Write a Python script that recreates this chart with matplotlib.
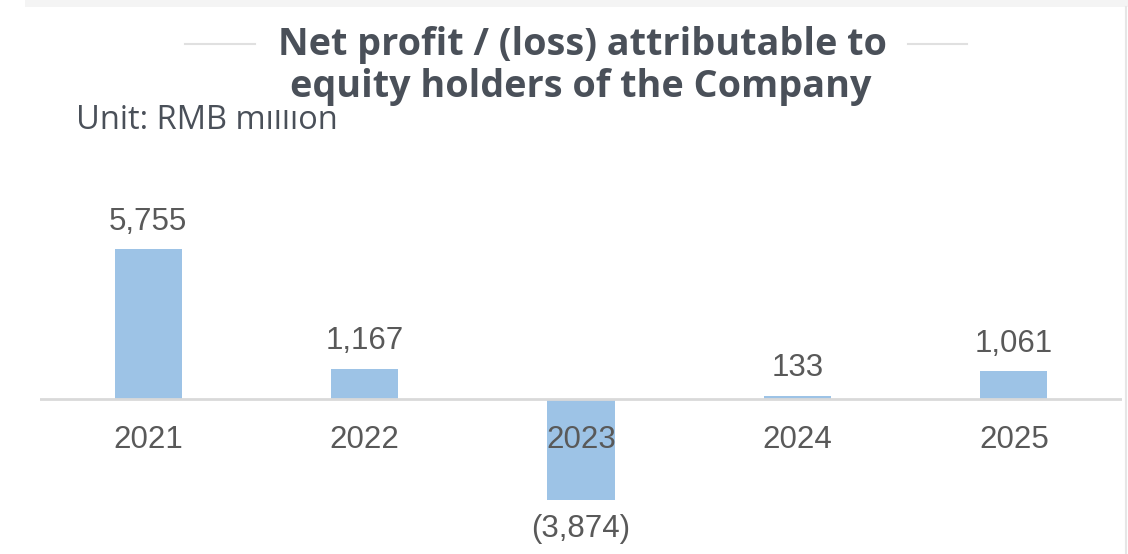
import matplotlib
matplotlib.use("Agg")
import matplotlib.pyplot as plt
from matplotlib.patches import Rectangle
from matplotlib.lines import Line2D

years = ["2021", "2022", "2023", "2024", "2025"]
profit = [5755, 1167, -3874, 133, 1061]
labels = ["5,755", "1,167", "(3,874)", "133", "1,061"]

bar_color = "#9dc3e6"
text_gray = "#595959"
title_gray = "#4a5059"

W, H = 1128, 554

def fx(px):
    return px / W

def fy(py):
    return 1 - py / H

fig = plt.figure(figsize=(W / 100, H / 100), dpi=100)
fig.patch.set_facecolor("white")

# faint page frame
fig.add_artist(Rectangle((fx(25), fy(7)), 1 - fx(25), 7 / H,
                         transform=fig.transFigure, color="#f4f4f4", lw=0))
fig.add_artist(Line2D([fx(1126)] * 2, [0, fy(7)], transform=fig.transFigure,
                      color="#e6e6e6", lw=1.5))

# plot area: x 40..1122 px, y 100..540 px
ax = fig.add_axes([fx(40), fy(540), 1082 / W, 440 / H])
x = range(len(years))
ax.bar(x, profit, width=0.31, color=bar_color, zorder=2)
ax.set_xlim(-0.5, len(years) - 0.5)
ax.set_ylim(-5411, 11473)
ax.axhline(0, color="#d9d9d9", lw=2, zorder=3)
for s in ax.spines.values():
    s.set_visible(False)
ax.set_yticks([])
ax.set_xticks([])

for i, (v, lab) in enumerate(zip(profit, labels)):
    if v >= 0:
        ax.annotate(lab, (i, v), xytext=(0, 9), textcoords="offset points",
                    ha="center", va="bottom", fontsize=22.5, color=text_gray,
                    family="Liberation Sans")
    else:
        ax.annotate(lab, (i, v), xytext=(0, -10), textcoords="offset points",
                    ha="center", va="top", fontsize=22.5, color=text_gray,
                    family="Liberation Sans")
    ax.annotate(years[i], (i, 0), xytext=(0, -19), textcoords="offset points",
                ha="center", va="top", fontsize=22.5, color=text_gray,
                family="Liberation Sans", zorder=5)

# unit note, partly hidden behind the title box
fig.text(fx(76), fy(129), "Unit: RMB million", ha="left", va="baseline",
         fontsize=23.5, color=title_gray, family="Open Sans", zorder=1)
fig.add_artist(Rectangle((fx(235), fy(109.5)), fx(925) - fx(235), 102.5 / H,
                         transform=fig.transFigure, color="white", lw=0, zorder=2))

fig.text(fx(582), fy(55), "Net profit / (loss) attributable to", ha="center",
         va="baseline", fontsize=27.2, fontweight="bold", color=title_gray,
         family="Open Sans", zorder=3)
fig.text(fx(581), fy(97), "equity holders of the Company", ha="center",
         va="baseline", fontsize=27.2, fontweight="bold", color=title_gray,
         family="Open Sans", zorder=3)
fig.add_artist(Line2D([fx(185), fx(255)], [fy(44)] * 2,
                      transform=fig.transFigure, color="#e0e0e0", lw=1.5, zorder=3))
fig.add_artist(Line2D([fx(908), fx(967)], [fy(44)] * 2,
                      transform=fig.transFigure, color="#e0e0e0", lw=1.5, zorder=3))

fig.savefig("out.png", dpi=100)
